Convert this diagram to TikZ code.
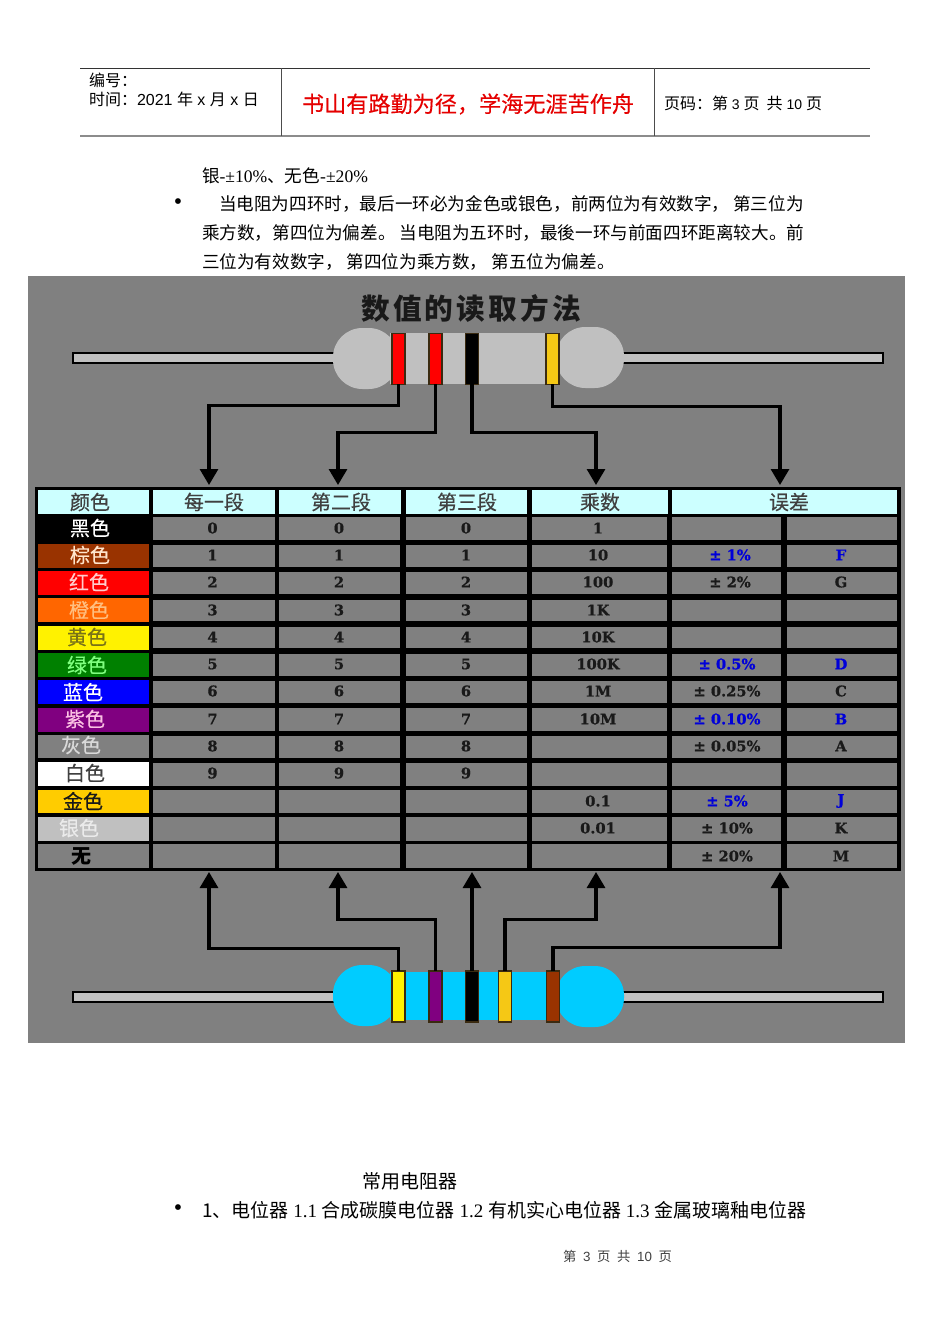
\documentclass[tikz,border=0pt]{standalone}
\usepackage{fontspec}
\usetikzlibrary{arrows.meta}
\setmainfont{Liberation Serif}
\newfontfamily\cjk{Noto Sans CJK SC}
\newfontfamily\cjkm[FakeBold=0.35]{Noto Sans CJK SC}
\newfontfamily\hei{Liberation Sans}
\newfontfamily\dvs[BoldFeatures={FakeBold=0.7}]{DejaVu Serif}
\newcommand{\fs}[1]{\fontsize{#1}{#1}\selectfont}
\definecolor{tgrey}{HTML}{808080}
\definecolor{hcyan}{HTML}{CCFFFF}
\definecolor{bodyg}{HTML}{C0C0C0}
\definecolor{bodyc}{HTML}{00CCFF}
\definecolor{rulegrey}{HTML}{8C8C8C}
\definecolor{cbrown}{HTML}{993300}
\definecolor{corange}{HTML}{FF6600}
\definecolor{cgreen}{HTML}{008000}
\definecolor{cviolet}{HTML}{800080}
\definecolor{cgold}{HTML}{FFCC00}
\definecolor{bandgold}{HTML}{F5C815}
\definecolor{bandedge}{HTML}{3A2A10}
\tikzset{
  txt/.style={inner sep=0pt,outer sep=0pt},
  body/.style={txt,anchor=west,font=\fs{13.2}},
  body2/.style={txt,anchor=west,font=\fs{14.25}},
  hd/.style={txt,font=\cjkm\fs{15},text=black!75},
  lab/.style={txt,font=\cjkm\fs{15}},
  num/.style={txt,font=\dvs\bfseries\fs{11},text=black!90},
  blu/.style={num,text=blue!85!black},
  cellnode/.style={inner sep=0pt,outer sep=0pt,draw=none},
  bandn/.style={inner sep=0pt,outer sep=0pt,draw=bandedge,line width=1.2pt,minimum width=10pt,minimum height=38pt},
  conn/.style={draw=black,line width=2.3pt,-{Triangle[width=13.5pt,length=12pt]}},
  lead/.style={draw=black,line width=1.9pt,fill=bodyg},
}
% name, x0, y0, x1, y1, fill  (in reference pixels)
\newcommand{\cellbox}[6]{%
  \pgfmathsetmacro{\cw}{(#4-#2)*0.75}%
  \pgfmathsetmacro{\ch}{(#5-#3)*0.75}%
  \pgfmathsetmacro{\cx}{(#2+#4)/2}%
  \pgfmathsetmacro{\cy}{(#3+#5)/2}%
  \node[cellnode,fill=#6,minimum width=\cw pt,minimum height=\ch pt] (#1) at (\cx,\cy) {};%
}
\begin{document}
\begin{tikzpicture}[x=0.75pt,y=-0.75pt]
\useasboundingbox[fill=white] (0,0) rectangle (950,1344);

% page header
\draw[line width=0.8pt,black!80] (80,68.5) -- (870,68.5);
\draw[line width=1.5pt,rulegrey] (80,136) -- (870,136);
\draw[line width=0.6pt,black!70] (281,68.5) -- (281,136);
\draw[line width=0.6pt,black!70] (654,68.5) -- (654,136);
\node[txt,anchor=west,font=\cjk\fs{12}] (bh) at (89,80) {编号：};
\node[txt,anchor=west,font=\fs{12}] (sj) at (89,99) {{\cjk 时间：}{\hei 2021 }{\cjk 年}{\hei\ x }{\cjk 月}{\hei\ x }{\cjk 日}};
\node[txt,anchor=west,font=\cjkm\fs{16.6},text=red!90!black] (motto) at (302,104) {书山有路勤为径，学海无涯苦作舟};
\node[txt,anchor=west,font=\fs{12}] (ym) at (664,103) {{\cjk 页码：第}{\hei\fs{10.5} 3 }{\cjk 页\ \ 共}{\hei\fs{10.5} 10 }{\cjk 页}};

% body text above
\node[body] (l1) at (202,176) {{\cjk 银}-±10\%{\cjk 、无色}-±20\%};
\node[txt,font=\fs{18}] (bu1) at (178,204) {•};
\node[body] (l2) at (219,204) {\cjk 当电阻为四环时，最后一环必为金色或银色，前两位为有效数字， 第三位为};
\node[body] (l3) at (202,233) {\cjk 乘方数，第四位为偏差。 当电阻为五环时，最後一环与前面四环距离较大。前};
\node[body] (l4) at (202,262) {\cjk 三位为有效数字， 第四位为乘方数， 第五位为偏差。};

% picture ground
\fill[tgrey] (28,276) rectangle (905,1043);
\node[txt,font=\cjk\bfseries\fs{21.5},text=black!90] (title) at (471,308) {\addfontfeature{LetterSpace=11}数值的读取方法};

% top resistor
\draw[lead] (73,353) rectangle (883,363);
\fill[bodyg,rounded corners=22] (333,328) rectangle (398,389);
\fill[bodyg,rounded corners=22] (556,327) rectangle (624,388);
\fill[bodyg] (390,333) rectangle (560,384);
\node[bandn,fill=red] (tb1) at (398.5,359) {};
\node[bandn,fill=red] (tb2) at (435.5,359) {};
\node[bandn,fill=black] (tb3) at (472,359) {};
\node[bandn,fill=bandgold] (tb4) at (552.5,359) {};

% bottom resistor
\draw[lead] (73,992) rectangle (883,1002);
\fill[bodyc,rounded corners=22] (333,965) rectangle (398,1026);
\fill[bodyc,rounded corners=22] (556,966) rectangle (624,1027);
\fill[bodyc] (390,972) rectangle (560,1020);
\node[bandn,fill=yellow] (bb1) at (398.5,996.5) {};
\node[bandn,fill=cviolet] (bb2) at (435.5,996.5) {};
\node[bandn,fill=black] (bb3) at (472,996.5) {};
\node[bandn,fill=bandgold] (bb4) at (505,996.5) {};
\node[bandn,fill=cbrown] (bb5) at (553,996.5) {};

% table
\fill[black] (35,487) rectangle (901,871);
\cellbox{h0}{38}{490}{149}{514}{hcyan}
\cellbox{h1}{153}{490}{275}{514}{hcyan}
\cellbox{h2}{279}{490}{401}{514}{hcyan}
\cellbox{h3}{406}{490}{527}{514}{hcyan}
\cellbox{h4}{532}{490}{668}{514}{hcyan}
\cellbox{h5}{672}{490}{897}{514}{hcyan}
\foreach \cc/\xl/\xr in {a/153/275,b/279/400,c/406/527,d/532/667,e/672/781,f/787/897}
  \foreach \rn/\yt/\yb in {1/517/540,2/545/567,3/572/594,4/600/621,5/627/648,6/654/676,7/681/703,8/708/731,9/736/758,10/763/786,11/790/813,12/817/841,13/844/868}
    {\cellbox{\cc\rn}{\xl}{\yt}{\xr}{\yb}{tgrey}}
\cellbox{k1}{38}{515}{149}{542}{black}
\cellbox{k2}{38}{544}{149}{568}{cbrown}
\cellbox{k3}{38}{571}{149}{595}{red}
\cellbox{k4}{38}{598}{149}{622}{corange}
\cellbox{k5}{38}{626}{149}{650}{yellow}
\cellbox{k6}{38}{653}{149}{677}{cgreen}
\cellbox{k7}{38}{680}{149}{704}{blue}
\cellbox{k8}{38}{708}{149}{732}{cviolet}
\cellbox{k9}{38}{735}{149}{758}{tgrey}
\cellbox{k10}{38}{762}{149}{786}{white}
\cellbox{k11}{38}{790}{149}{813}{cgold}
\cellbox{k12}{38}{817}{149}{841}{bodyg}
\cellbox{k13}{38}{844}{149}{868}{tgrey}

% table heads
\node[hd] (th0) at (90,502) {颜色};
\node[hd] (th1) at (214,502) {每一段};
\node[hd] (th2) at (341,502) {第二段};
\node[hd] (th3) at (467,502) {第三段};
\node[hd] (th4) at (600,502) {乘数};
\node[hd] (th5) at (789,502) {误差};

% colour names
\node[lab,text=white] (n1) at (90,528) {黑色};
\node[lab,text=orange!20] (n2) at (90,555) {棕色};
\node[lab,text=red!20] (n3) at (89,582) {红色};
\node[lab,text=orange!50] (n4) at (89,610) {橙色};
\node[lab,text=olive!80!black] (n5) at (87,637) {黄色};
\node[lab,text=green!50!white] (n6) at (87,665) {绿色};
\node[lab,text=white] (n7) at (83,692) {蓝色};
\node[lab,text=magenta!25] (n8) at (85,719) {紫色};
\node[lab,text=black!15] (n9) at (81,745) {灰色};
\node[lab,text=black!75] (n10) at (85,773) {白色};
\node[lab,text=black!90] (n11) at (83,801) {金色};
\node[lab,text=white!92!black] (n12) at (79,828) {银色};
\node[lab,font=\cjk\bfseries\fs{15}] (n13) at (81,856) {无};

% digit columns
\foreach \rn/\yy/\dd in {1/528/0,2/555/1,3/582/2,4/610/3,5/637/4,6/664/5,7/691/6,8/719/7,9/746/8,10/773/9}{
  \node[num] (da\rn) at (212.5,\yy) {\dd};
  \node[num] (db\rn) at (339,\yy) {\dd};
  \node[num] (dc\rn) at (466,\yy) {\dd};
}
% multipliers
\foreach \rn/\yy/\dd in {1/528/1,2/555/10,3/582/100,4/610/1K,5/637/10K,6/664/100K,7/691/1M,8/719/10M,11/801/0.1,12/828/0.01}{
  \node[num] (dd\rn) at (598,\yy) {\dd};
}
% tolerances
\node[blu] (e2) at (730,555) {± 1\%};
\node[num] (e3) at (730,582) {± 2\%};
\node[blu] (e6) at (727,664) {± 0.5\%};
\node[num] (e7) at (727,691) {± 0.25\%};
\node[blu] (e8) at (727,719) {± 0.10\%};
\node[num] (e9) at (727,746) {± 0.05\%};
\node[blu] (e11) at (727,801) {± 5\%};
\node[num] (e12) at (727,828) {± 10\%};
\node[num] (e13) at (727,856) {± 20\%};
\node[blu] (f2) at (841,555) {F};
\node[num] (f3) at (841,582) {G};
\node[blu] (f6) at (841,664) {D};
\node[num] (f7) at (841,691) {C};
\node[blu] (f8) at (841,719) {B};
\node[num] (f9) at (841,746) {A};
\node[blu] (f11) at (841,801) {J};
\node[num] (f12) at (841,828) {K};
\node[num] (f13) at (841,856) {M};

% connector ends
\coordinate (ta1) at (209,485);
\coordinate (ta2) at (338,485);
\coordinate (ta3) at (596,485);
\coordinate (ta4) at (780,485);
\coordinate (ba1) at (209,872);
\coordinate (ba2) at (338,872);
\coordinate (ba3) at (472,872);
\coordinate (ba4) at (596,872);
\coordinate (ba5) at (780,872);

% top connectors
\draw[conn] (tb1.south) -- ++(0,21) -| (ta1);
\draw[conn] (tb2.south) -- ++(0,48) -| (ta2);
\draw[conn] (tb3.south) -- ++(0,48) -| (ta3);
\draw[conn] (tb4.south) -- ++(0,22) -| (ta4);
% bottom connectors
\draw[conn] (bb1.north) -- ++(0,-23) -| (ba1);
\draw[conn] (bb2.north) -- ++(0,-52) -| (ba2);
\draw[conn] (bb3.north) -- (ba3);
\draw[conn] (bb4.north) -- ++(0,-52) -| (ba4);
\draw[conn] (bb5.north) -- ++(0,-24) -| (ba5);

% text below
\node[body2] (c1) at (362,1181) {\cjk 常用电阻器};
\node[txt,font=\fs{18}] (bu2) at (178,1210) {•};
\node[body2] (c2) at (202,1210) {{\cjk 1、电位器} 1.1 {\cjk 合成碳膜电位器} 1.2 {\cjk 有机实心电位器} 1.3 {\cjk 金属玻璃釉电位器}};
\node[txt,anchor=west,font=\fs{10},text=black!75] (ft) at (563,1256) {{\cjk 第}\ \ {\hei 3}\ \ {\cjk 页}\ \ {\cjk 共}\ \ {\hei 10}\ \ {\cjk 页}};
\end{tikzpicture}
\end{document}
